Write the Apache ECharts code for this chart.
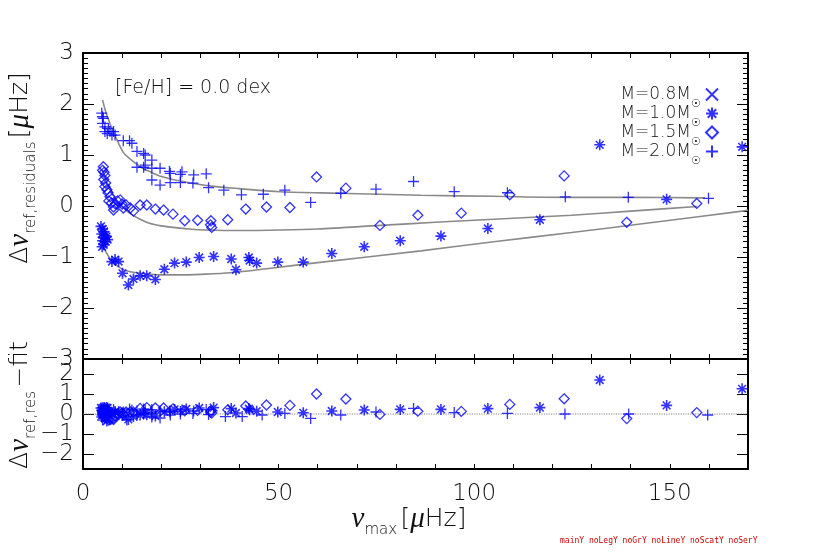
<!DOCTYPE html>
<html>
<head>
<meta charset="utf-8">
<script src="https://cdn.jsdelivr.net/npm/echarts@6.0.0/dist/echarts.min.js"></script>
<style>
html, body { margin: 0; padding: 0; background: #fff; }
#main { width: 830px; height: 553px; }
#log { position: absolute; left: 560px; top: 536px; font: 8px monospace; white-space: pre; color: #c00; }
</style>
</head>
<body>
<div id="main"></div>
<div id="log"></div>
<script>
// tick labels
var xTicks = [0, 50, 100, 150];
var yTopTicks = [-3, -2, -1, 0, 1, 2, 3];
var yBotTicks = [-2, -1, 0, 1, 2];

var massNames = ['M=0.8M\u2609', 'M=1.0M\u2609', 'M=1.5M\u2609', 'M=2.0M\u2609'];

var m08Top = [];
var m10Top = [[4.6,-0.40],[5.0,-0.45],[5.4,-0.50],[4.8,-0.55],[5.6,-0.58],[5.2,-0.62],[6.0,-0.60],[5.0,-0.68],[5.8,-0.70],[5.3,-0.76],[6.3,-0.66],[4.9,-0.80],
  [7.4,-1.09],[8.2,-1.05],[9.1,-1.09],[10.1,-1.32],[11.6,-1.55],[12.9,-1.43],[14.6,-1.37],[16.3,-1.37],[18.5,-1.44],[20.8,-1.24],[23.4,-1.12],[26.4,-1.10],
  [29.7,-1.01],[33.4,-0.99],[37.9,-1.04],[39.1,-1.25],[42.4,-1.01],[42.6,-1.07],[44.4,-1.12],[49.8,-1.10],[56.3,-1.10],[63.6,-0.93],[71.9,-0.80],[81.1,-0.68],
  [91.5,-0.59],[103.5,-0.44],[116.8,-0.27],[132.1,1.20],[149.2,0.13],[168.5,1.16]];
var m15Top = [[5.2,0.77],[5.0,0.70],[5.4,0.66],[5.6,0.60],[5.3,0.52],[5.8,0.45],[5.6,0.38],[6.1,0.32],[6.4,0.26],[6.9,0.18],[6.6,0.10],[7.3,0.06],[7.8,-0.02],
  [7.8,-0.08],[8.3,0.04],[8.8,0.10],[9.5,0.12],[10.0,0.04],[10.3,-0.04],[11.0,0.02],[12.1,-0.04],[12.9,-0.10],[14.6,0.02],[16.3,0.02],[18.5,-0.06],[20.6,-0.08],
  [23.0,-0.16],[26.0,-0.29],[29.3,-0.28],[32.7,-0.29],[32.6,-0.37],[32.9,-0.42],[37.0,-0.27],[41.6,-0.06],[46.9,-0.02],[52.9,-0.03],[59.7,0.57],[67.2,0.35],
  [75.9,-0.38],[85.6,-0.18],[96.7,-0.14],[109.1,0.22],[123.0,0.59],[139.0,-0.32],[156.9,0.05]];
var m20Top = [[4.8,1.82],[5.0,1.75],[5.2,1.72],[5.0,1.62],[5.6,1.55],[6.5,1.52],[5.6,1.46],[6.9,1.46],[6.2,1.42],[7.4,1.39],[8.2,1.39],[7.8,1.46],
  [10.3,1.28],[11.9,1.28],[12.5,1.23],[13.8,1.07],[15.5,1.03],[15.9,1.00],[17.6,0.90],[15.9,0.80],[13.8,0.76],[15.5,0.76],[17.6,0.74],[19.7,0.74],[22.1,0.68],
  [22.3,0.64],[25.3,0.67],[24.9,0.62],[28.3,0.61],[31.5,0.63],[17.6,0.51],[19.7,0.41],[22.3,0.46],[24.9,0.46],[28.1,0.45],[32.1,0.36],[36.0,0.31],[40.5,0.22],
  [46.1,0.23],[51.6,0.31],[58.2,0.07],[65.9,0.25],[74.9,0.33],[84.5,0.48],[94.9,0.28],[108.5,0.26],[123.3,0.18],[139.4,0.17],[159.9,0.15]];

var fit10 = [[5.0,-0.76],[6.0,-0.92],[7.0,-1.04],[7.8,-1.12],[9.0,-1.19],[10.3,-1.25],[12.1,-1.29],[14.6,-1.32],[16.3,-1.33],[20,-1.35],[24.9,-1.35],
  [30,-1.34],[37.7,-1.31],[48,-1.22],[60,-1.11],[86.4,-0.88],[105,-0.70],[124.9,-0.52],[145,-0.33],[168.5,-0.10],[170,-0.08]];
var fit15 = [[5.0,0.70],[6.0,0.48],[6.9,0.36],[7.8,0.20],[9.0,0.06],[10.3,-0.03],[12.1,-0.15],[14.6,-0.26],[17,-0.34],[20,-0.39],[23.2,-0.42],[27,-0.45],
  [31.7,-0.47],[40,-0.48],[50.5,-0.47],[60,-0.45],[76,-0.38],[90,-0.32],[105,-0.26],[124.9,-0.18],[140,-0.10],[157,-0.01]];
var fit20 = [[5.0,2.08],[6.0,1.80],[7.8,1.45],[10.3,1.05],[12.1,0.92],[14.6,0.77],[17.2,0.67],[20,0.58],[24.9,0.49],[31.7,0.40],[40,0.34],[50.5,0.28],
  [65,0.25],[86.4,0.21],[105,0.19],[124.9,0.17],[140,0.17],[159,0.16]];

var m10Bot = [[4.6,0.30],[5.0,0.31],[5.4,0.33],[4.8,0.18],[5.6,0.28],[5.2,0.18],[6.0,0.32],[5.0,0.08],[5.8,0.19],[5.3,0.05],[6.3,0.30],[4.9,-0.05],[5.5,-0.20],[6.1,-0.35],
  [7.4,-0.01],[8.2,0.10],[9.1,0.11],[10.1,-0.08],[11.6,-0.27],[12.9,-0.13],[14.6,-0.05],[16.3,-0.04],[18.5,-0.10],[20.8,0.11],[23.4,0.23],[26.4,0.25],[29.7,0.30],
  [33.4,0.32],[37.9,0.27],[39.1,0.05],[42.4,0.27],[42.6,0.21],[44.4,0.14],[49.8,0.10],[56.3,0.06],[63.6,0.15],[71.9,0.20],[81.1,0.23],[91.5,0.23],[103.5,0.27],
  [116.8,0.32],[132.1,1.70],[149.2,0.43],[168.5,1.26]];
var m15Bot = [[5.2,0.11],[5.0,0.00],[5.4,0.06],[5.6,0.04],[5.3,-0.12],[5.8,-0.07],[5.6,-0.18],[6.1,-0.15],[6.4,-0.17],[6.9,-0.18],[6.6,-0.30],[7.3,-0.24],[7.8,-0.22],
  [7.8,-0.28],[8.3,-0.10],[8.8,0.02],[9.5,0.10],[10.0,0.05],[10.3,-0.01],[11.0,0.10],[12.1,0.11],[12.9,0.09],[14.6,0.28],[16.3,0.32],[18.5,0.30],[20.6,0.30],
  [23.0,0.26],[26.0,0.16],[29.3,0.18],[32.7,0.18],[32.6,0.10],[32.9,0.05],[37.0,0.21],[41.6,0.40],[46.9,0.45],[52.9,0.43],[59.7,1.00],[67.2,0.75],[75.9,-0.02],
  [85.6,0.14],[96.7,0.13],[109.1,0.48],[123.0,0.76],[139.0,-0.23],[156.9,0.07]];
var m20Bot = [[4.8,-0.15],[5.0,0.20],[5.2,0.05],[5.0,-0.30],[5.6,0.10],[6.5,0.18],[5.6,-0.05],[6.9,0.08],[6.2,0.00],[7.4,0.05],[8.2,0.12],[7.8,0.22],[10.3,0.10],
  [11.9,0.25],[12.5,0.20],[11.2,-0.30],[13.8,0.15],[15.5,0.25],[15.9,0.20],[17.6,0.22],[15.9,0.05],[13.8,-0.05],[15.5,0.00],[17.6,0.05],[19.7,0.15],[22.1,0.15],
  [22.3,0.10],[25.3,0.20],[24.9,0.12],[28.3,0.15],[31.5,0.22],[17.6,-0.15],[19.7,-0.20],[22.3,-0.05],[24.9,0.00],[28.1,0.03],[32.1,-0.03],[36.4,-0.13],[40.7,-0.13],
  [45.8,-0.05],[51.6,0.03],[58.2,-0.22],[65.9,-0.05],[74.9,0.10],[84.5,0.28],[94.9,0.07],[108.5,0.03],[123.2,0.00],[139.5,0.00],[159.7,-0.05]];
var zeroLine = [[0, 0], [170, 0]];

var SYM_X = 'path://M0,0L10,10M0,10L10,0';
var SYM_STAR = 'path://M5,0L5,10M0,5L10,5M1.5,1.5L8.5,8.5M1.5,8.5L8.5,1.5';
var SYM_PLUS = 'path://M0,5L10,5M5,0L5,10';
var symbols = [SYM_X, SYM_STAR, 'diamond', SYM_PLUS];
var symSizes = [10, 11, 10, 11];

var FONT = 'DejaVu Sans';
var GREEK = 'Liberation Serif';
var TXT = '#111';

function minusFmt(v) {
    return v < 0 ? '\u2212' + (-v) : String(v);
}
function pts(name, k, data, xi, yi) {
    return {
        name: name, type: 'scatter', xAxisIndex: xi, yAxisIndex: yi,
        symbol: symbols[k], symbolSize: symSizes[k],
        itemStyle: { color: 'rgba(0,0,0,0)', borderColor: '#0000ff', borderWidth: k == 1 ? 1.6 : 1.3 },
        z: 3, data: data
    };
}
function fitLine(name, data) {
    return {
        name: name, type: 'line', xAxisIndex: 0, yAxisIndex: 0,
        symbol: 'none', smooth: 0.3, z: 2,
        lineStyle: { color: '#8a8a8a', width: 1.6 },
        data: data
    };
}
function axLine() {
    return { show: true, onZero: false, lineStyle: { color: '#000', width: 2 } };
}
function tick(len) {
    return { show: true, inside: true, length: len, lineStyle: { color: '#000', width: 1 } };
}
function xAx(grid, pos, labels) {
    return {
        gridIndex: grid, type: 'value', position: pos, min: 0, max: 170, interval: 10,
        axisLine: axLine(), axisTick: tick(5),
        axisLabel: {
            show: labels, margin: 14, fontSize: 23, fontFamily: FONT, fontWeight: 200, color: TXT,
            formatter: function (v) { return xTicks.indexOf(v) >= 0 ? String(v) : ''; }
        },
        splitLine: { show: false }
    };
}
function yTop(pos, labels) {
    return {
        gridIndex: 0, type: 'value', position: pos, min: -3, max: 3, interval: 1,
        axisLine: axLine(), axisTick: tick(11),
        minorTick: { show: true, splitNumber: 10, length: 5, lineStyle: { color: '#000', width: 1 } },
        axisLabel: {
            show: labels, margin: 9, fontSize: 23, fontFamily: FONT, fontWeight: 200, color: TXT,
            formatter: function (v) { return yTopTicks.indexOf(v) >= 0 ? minusFmt(v) : ''; }
        },
        splitLine: { show: false }
    };
}
function yBot(pos, labels) {
    return {
        gridIndex: 1, type: 'value', position: pos, min: -2.75, max: 2.75,
        axisLine: axLine(), axisTick: tick(11),
        axisLabel: {
            show: labels, interval: 0, margin: 9, fontSize: 23, fontFamily: FONT, fontWeight: 200, color: TXT,
            formatter: function (v) { return yBotTicks.indexOf(v) >= 0 ? minusFmt(v) : ''; }
        },
        splitLine: { show: false }
    };
}

var greekRich = {
    n: { fontSize: 25, fontFamily: FONT, fontWeight: 200, fill: TXT },
    i: { fontSize: 29, fontFamily: GREEK, fontStyle: 'italic', fill: TXT },
    s: { fontSize: 15, fontFamily: FONT, fontWeight: 200, fill: TXT, padding: [22, 0, 0, 0] }
};

function buildOption() {
    return {
        animation: false,
        grid: [
            { left: 83, top: 53, width: 665, height: 306 },
            { left: 83, top: 359, width: 665, height: 110 }
        ],
        xAxis: [xAx(0, 'bottom', false), xAx(0, 'top', false), xAx(1, 'bottom', true), xAx(1, 'top', false)],
        yAxis: [yTop('left', true), yTop('right', false), yBot('left', true), yBot('right', false)],
        legend: {
            orient: 'vertical', right: 106, top: 81, align: 'right',
            itemWidth: 12, itemHeight: 12, itemGap: -5,
            data: massNames,
            formatter: function (name) { return name.replace('\u2609', '{s|\u2609}'); },
            textStyle: {
                fontSize: 17, fontFamily: FONT, fontWeight: 200, color: TXT,
                rich: { s: { fontSize: 11, fontFamily: FONT, color: TXT, padding: [20, 0, 0, 0] } }
            }
        },
        graphic: [
            { type: 'text', x: 115, y: 88,
              style: { text: '[Fe/H] = 0.0 dex', fontSize: 19, fontFamily: FONT, fontWeight: 200, fill: TXT, textVerticalAlign: 'middle' } },
            { type: 'text', x: 20, y: 168, rotation: Math.PI / 2,
              style: { text: '{n|\u0394}{i|\u03bd}{s|ref,residuals} {n|[}{i|\u03bc}{n|Hz]}', textAlign: 'center', textVerticalAlign: 'middle', fill: TXT, rich: greekRich } },
            { type: 'text', x: 20, y: 405, rotation: Math.PI / 2,
              style: { text: '{n|\u0394}{i|\u03bd}{s|ref,res} {n|\u2212fit}', textAlign: 'center', textVerticalAlign: 'middle', fill: TXT, rich: greekRich } },
            { type: 'text', x: 409, y: 519,
              style: { text: '{i|\u03bd}{s|max} {n|[}{i|\u03bc}{n|Hz]}', textAlign: 'center', textVerticalAlign: 'middle', fill: TXT, rich: greekRich } }
        ],
        series: [
            fitLine('fit10', fit10),
            fitLine('fit15', fit15),
            fitLine('fit20', fit20),
            pts(massNames[0], 0, m08Top, 0, 0),
            pts(massNames[1], 1, m10Top, 0, 0),
            pts(massNames[2], 2, m15Top, 0, 0),
            pts(massNames[3], 3, m20Top, 0, 0),
            {
                name: 'zero', type: 'line', xAxisIndex: 2, yAxisIndex: 2, symbol: 'none', z: 1,
                lineStyle: { type: 'dotted', color: '#888', width: 1.2 },
                data: zeroLine
            },
            pts(massNames[1], 1, m10Bot, 2, 2),
            pts(massNames[2], 2, m15Bot, 2, 2),
            pts(massNames[3], 3, m20Bot, 2, 2)
        ]
    };
}

var chart = echarts.init(document.getElementById('main'));
chart.setOption(buildOption());

// check whether a y tick is painted (pixel just inside the left axis at value 2)
function tickDark(c) {
    c.getZr().refreshImmediately();
    var cv = c.getDom().querySelector('canvas');
    var px = cv.getContext('2d').getImageData(90, 104, 1, 1).data;
    return px[3] > 0 && px[0] < 140 ? 'Y' : 'n';
}
var out = ['main' + tickDark(chart)];
function variant(label, patch) {
    var d = document.createElement('div');
    d.style.cssText = 'position:absolute;left:-2000px;top:0;width:830px;height:553px';
    document.body.appendChild(d);
    var c = echarts.init(d);
    var o = buildOption();
    patch(o);
    c.setOption(o);
    out.push(label + tickDark(c));
    c.dispose(); d.remove();
}
variant('noLeg', function (o) { delete o.legend; });
variant('noGr', function (o) { delete o.graphic; });
variant('noLine', function (o) { o.series = o.series.filter(function (s) { return s.type !== 'line'; }); });
variant('noScat', function (o) { o.series = o.series.filter(function (s) { return s.type !== 'scatter'; }); });
variant('noSer', function (o) { o.series = []; });
document.getElementById('log').textContent = out.join(' ');
</script>
</body>
</html>
